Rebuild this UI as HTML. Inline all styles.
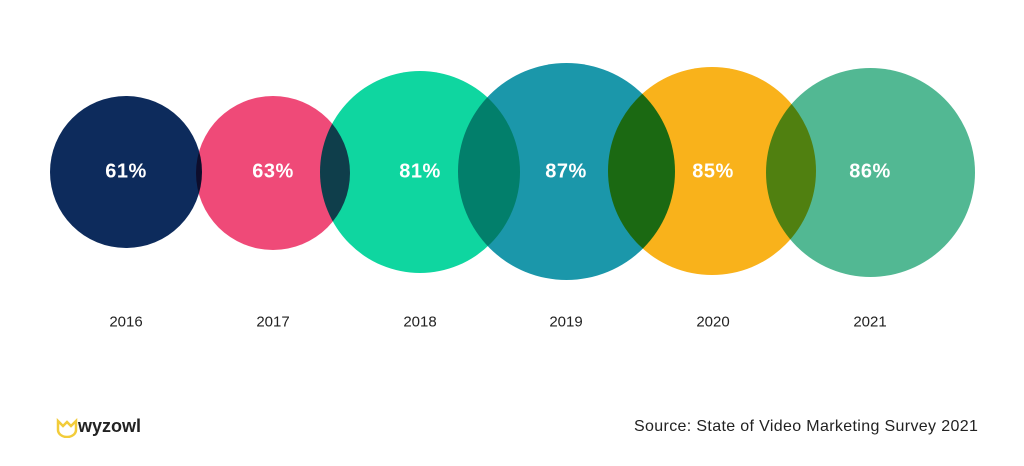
<!DOCTYPE html>
<html><head><style>
html,body{margin:0;padding:0;background:#fff;}
body{width:1024px;height:466px;position:relative;overflow:hidden;font-family:"Liberation Sans",sans-serif;}
.c{position:absolute;border-radius:50%;mix-blend-mode:multiply;}
.p{position:absolute;color:#fff;font-weight:bold;font-size:20px;transform:translate(-50%,-50%);top:172px;letter-spacing:0.5px;}
.y{position:absolute;top:322px;font-size:15px;color:#222;transform:translate(-50%,-50%);}
</style></head><body>
<div class="c" style="left:50px;top:96px;width:152px;height:152px;background:#0d2b5c"></div>
<div class="c" style="left:196px;top:96px;width:154px;height:154px;background:#ef4a78"></div>
<div class="c" style="left:320px;top:71px;width:200px;height:202px;background:#0fd6a0"></div>
<div class="c" style="left:458px;top:63px;width:217px;height:217px;background:#1b97aa"></div>
<div class="c" style="left:608px;top:67px;width:208px;height:208px;background:#f9b21b"></div>
<div class="c" style="left:766px;top:68px;width:209px;height:209px;background:#52b893"></div>
<div class="p" style="left:126px">61%</div>
<div class="p" style="left:273px">63%</div>
<div class="p" style="left:420px">81%</div>
<div class="p" style="left:566px">87%</div>
<div class="p" style="left:713px">85%</div>
<div class="p" style="left:870px">86%</div>
<div class="y" style="left:126px">2016</div>
<div class="y" style="left:273px">2017</div>
<div class="y" style="left:420px">2018</div>
<div class="y" style="left:566px">2019</div>
<div class="y" style="left:713px">2020</div>
<div class="y" style="left:870px">2021</div>
<svg style="position:absolute;left:56px;top:418px" width="22" height="20" viewBox="0 0 22 20"><path d="M2 3 L7 8 L11 4 L15 8 L20 3 L20 12 A9 7 0 0 1 2 12 Z" fill="none" stroke="#f2cc3a" stroke-width="2.5"/></svg>
<div style="position:absolute;left:78px;top:416px;font-size:18px;font-weight:bold;color:#222">wyzowl</div>
<div style="position:absolute;left:634px;top:418px;font-size:16px;color:#222;letter-spacing:0.35px">Source: State of Video Marketing Survey 2021</div>
</body></html>
